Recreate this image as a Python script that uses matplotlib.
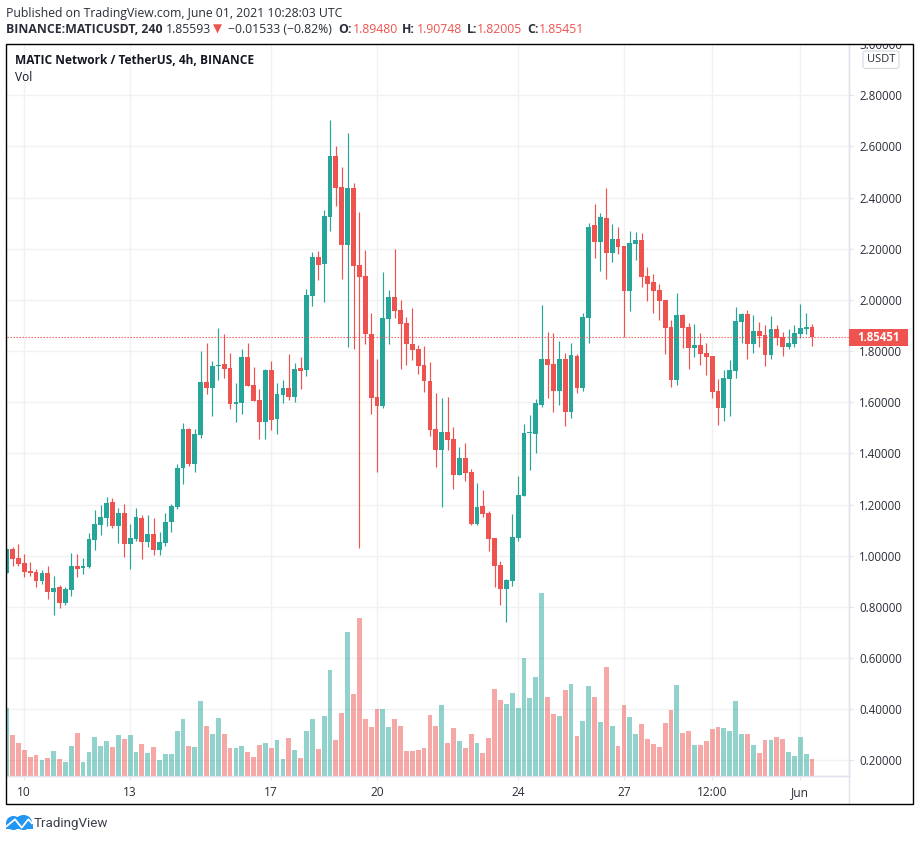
#!/usr/bin/env python

import matplotlib
matplotlib.use("Agg")
import matplotlib.pyplot as plt
from matplotlib.patches import Rectangle, FancyBboxPatch, Ellipse
from matplotlib.lines import Line2D
from matplotlib.transforms import Bbox
import numpy as np

W, H = 920, 841
GREEN = "#26a69a"
RED = "#ef5350"
GRID = "#f0f1f3"
AXIS = "#e0e3eb"
TEXT = "#2a2e39"

plt.rcParams["font.family"] = ["Open Sans", "DejaVu Sans"]

# 4h candles, first one is half hidden behind the left edge
opens = [0.931, 1.027, 0.992, 0.972, 0.941, 0.937, 0.902, 0.933, 0.859, 0.879, 0.816, 0.867,
         0.961, 0.953, 0.957, 1.062, 1.121, 1.148, 1.211, 1.117, 1.168, 1.047, 1.066, 1.148,
         1.055, 1.086, 1.023, 1.051, 1.133, 1.191, 1.344, 1.497, 1.360, 1.473, 1.680, 1.657,
         1.743, 1.751, 1.735, 1.594, 1.598, 1.778, 1.669, 1.610, 1.524, 1.727, 1.536, 1.630,
         1.657, 1.622, 1.735, 1.727, 2.017, 2.166, 2.142, 2.326, 2.561, 2.443, 2.213, 2.439,
         2.138, 2.095, 1.868, 1.622, 1.587, 1.927, 2.013, 1.962, 1.911, 1.829, 1.810, 1.747,
         1.684, 1.497, 1.414, 1.485, 1.458, 1.317, 1.383, 1.328, 1.125, 1.195, 1.168, 1.070,
         0.965, 0.871, 0.902, 1.070, 1.235, 1.478, 1.477, 1.591, 1.770, 1.751, 1.645,
         1.770, 1.563, 1.782, 1.657, 1.931, 2.291, 2.228, 2.322, 2.185, 2.240, 2.209, 2.033,
         2.220, 2.236, 2.095, 2.072, 2.040, 2.001, 1.896, 1.688, 1.943, 1.896, 1.814, 1.825,
         1.794, 1.782, 1.645, 1.579, 1.692, 1.724, 1.915, 1.946, 1.829, 1.880, 1.864, 1.786,
         1.888, 1.856, 1.817, 1.829, 1.868, 1.888, 1.8948]
highs = [1.027, 1.035, 1.047, 1.008, 0.976, 0.949, 0.945, 0.961, 0.922, 0.886, 0.879, 1.012,
         1.008, 0.991, 1.090, 1.180, 1.199, 1.231, 1.227, 1.188, 1.203, 1.125, 1.188, 1.160,
         1.160, 1.148, 1.094, 1.168, 1.203, 1.360, 1.520, 1.500, 1.497, 1.802, 1.833, 1.763,
         1.892, 1.868, 1.794, 1.677, 1.810, 1.833, 1.739, 1.653, 1.731, 1.763, 1.677, 1.688,
         1.790, 1.755, 1.778, 2.044, 2.189, 2.193, 2.353, 2.702, 2.600, 2.518, 2.651, 2.459,
         2.342, 2.197, 1.950, 1.770, 2.111, 2.040, 2.201, 2.001, 1.935, 1.970, 1.825, 1.821,
         1.759, 1.637, 1.618, 1.622, 1.504, 1.426, 1.442, 1.340, 1.285, 1.258, 1.176, 1.070,
         0.980, 0.910, 1.164, 1.313, 1.516, 1.551, 1.614, 1.982, 1.876, 1.872, 1.841, 1.794,
         1.833, 1.790, 1.950, 2.299, 2.377, 2.338, 2.439, 2.295, 2.287, 2.209, 2.271, 2.267,
         2.263, 2.130, 2.103, 2.064, 2.001, 1.923, 2.029, 1.946, 1.911, 1.907, 1.872, 1.833,
         1.782, 1.692, 1.727, 1.767, 1.974, 1.950, 1.962, 1.943, 1.915, 1.903, 1.939, 1.903,
         1.876, 1.888, 1.903, 1.986, 1.950, 1.90748]
lows = [0.931, 0.958, 0.958, 0.915, 0.919, 0.879, 0.890, 0.832, 0.769, 0.796, 0.808, 0.843,
        0.918, 0.929, 0.953, 1.023, 1.082, 1.117, 1.109, 1.051, 0.996, 0.949, 1.058, 0.988,
        1.035, 1.004, 1.004, 1.039, 1.094, 1.184, 1.281, 1.352, 1.328, 1.461, 1.634, 1.547,
        1.688, 1.696, 1.575, 1.524, 1.555, 1.665, 1.606, 1.458, 1.458, 1.493, 1.477, 1.598,
        1.610, 1.602, 1.653, 1.704, 1.978, 2.076, 1.990, 2.271, 2.369, 2.083, 1.817, 1.810,
        1.031, 1.829, 1.555, 1.328, 1.579, 1.829, 1.931, 1.731, 1.747, 1.767, 1.712, 1.641,
        1.469, 1.348, 1.191, 1.414, 1.262, 1.317, 1.293, 1.121, 1.121, 1.152, 1.019, 0.879,
        0.808, 0.742, 0.882, 1.058, 1.235, 1.336, 1.403, 1.583, 1.618, 1.563, 1.591, 1.508,
        1.540, 1.637, 1.645, 1.833, 2.162, 2.115, 2.080, 2.150, 2.181, 1.854, 1.958, 2.158,
        2.052, 1.997, 1.950, 1.923, 1.790, 1.661, 1.669, 1.814, 1.731, 1.778, 1.747, 1.708,
        1.618, 1.512, 1.528, 1.547, 1.696, 1.833, 1.770, 1.794, 1.817, 1.743, 1.770, 1.825,
        1.782, 1.810, 1.817, 1.853, 1.868, 1.82005]
closes = [1.027, 0.988, 0.968, 0.937, 0.933, 0.902, 0.933, 0.859, 0.875, 0.816, 0.871, 0.961,
          0.949, 0.961, 1.066, 1.125, 1.152, 1.207, 1.117, 1.168, 1.047, 1.070, 1.152, 1.055,
          1.086, 1.023, 1.055, 1.133, 1.195, 1.344, 1.497, 1.360, 1.477, 1.680, 1.657, 1.743,
          1.747, 1.731, 1.594, 1.602, 1.778, 1.665, 1.606, 1.524, 1.727, 1.532, 1.634, 1.657,
          1.622, 1.731, 1.724, 2.021, 2.166, 2.138, 2.330, 2.561, 2.439, 2.213, 2.439, 2.134,
          2.091, 1.868, 1.618, 1.587, 1.931, 2.013, 1.958, 1.907, 1.829, 1.806, 1.743, 1.684,
          1.493, 1.414, 1.485, 1.454, 1.317, 1.383, 1.325, 1.125, 1.191, 1.164, 1.066, 0.961,
          0.871, 0.906, 1.074, 1.238, 1.481, 1.482, 1.598, 1.770, 1.747, 1.645, 1.770, 1.563,
          1.786, 1.657, 1.935, 2.287, 2.228, 2.326, 2.185, 2.240, 2.205, 2.033, 2.224, 2.236,
          2.091, 2.064, 2.036, 1.997, 1.892, 1.688, 1.943, 1.892, 1.814, 1.825, 1.790, 1.778,
          1.641, 1.579, 1.696, 1.727, 1.919, 1.946, 1.829, 1.880, 1.860, 1.786, 1.888, 1.853,
          1.817, 1.833, 1.872, 1.892, 1.896, 1.85451]
volumes = [68, 41, 33, 26, 19, 21, 16, 18, 25, 17, 14, 30, 43, 14, 24, 39, 30, 35, 29, 41, 37, 41,
           24, 32, 23, 29, 16, 22, 22, 45, 57, 30, 29, 75, 50, 42, 58, 42, 28, 28, 30, 24, 19, 31,
           33, 28, 36, 17, 38, 26, 18,
           45, 57, 27, 60, 106, 36, 63, 144, 82, 158, 57, 49, 67, 67, 49, 57, 50, 25, 25, 26, 28,
           61, 50, 71, 33, 48, 35, 28, 42, 33, 23, 38, 87, 76, 72, 83, 68, 118, 78, 99, 183, 79,
           62, 60, 86, 92, 40, 55, 90, 79, 54, 109, 50, 30, 71, 59, 42, 52, 37, 32, 29, 53, 66,
           91, 43, 45, 31, 31, 35, 47, 49, 48, 45, 75, 42, 42, 31, 23, 36, 36, 39, 37, 24, 20, 39,
           22, 17]

price_ticks = [0.2, 0.4, 0.6, 0.8, 1.0, 1.2, 1.4, 1.6, 1.8, 2.0, 2.2, 2.4, 2.6, 2.8, 3.0]
time_pos = [0, 18, 42, 60, 84, 102, 117, 132]
time_labels = ["10", "13", "17", "20", "24", "27", "12:00", "Jun"]
last_price = 1.85451


def fx(px):
    return px / W


def fy(py):
    return 1 - py / H


def label(x, y, s, **kw):
    kw.setdefault("color", TEXT)
    kw.setdefault("fontsize", 8.8)
    kw.setdefault("va", "center")
    return fig.text(fx(x), fy(y), s, **kw)


fig = plt.figure(figsize=(W / 100, H / 100), dpi=100, facecolor="white")
ax = fig.add_axes([fx(7), fy(776), fx(849 - 7), (776 - 44) / H])

opens = np.array(opens)
closes = np.array(closes)
highs = np.array(highs)
lows = np.array(lows)
x = np.arange(len(closes)) - 3
colors = [GREEN if c >= o else RED for o, c in zip(opens, closes)]

ax.set_xlim(-2.94, 140.28)
ax.set_ylim(0.1387, 3.0006)
ax.set_axisbelow(True)
ax.grid(True, color=GRID, lw=1)

# candles
ax.vlines(x, lows, highs, colors=colors, lw=0.85, zorder=3)
ax.bar(x, np.abs(closes - opens), bottom=np.minimum(opens, closes), width=0.82,
       color=colors, lw=0, zorder=4)
ax.axhline(last_price, color=RED, lw=0.8, ls=(0, (1.17, 1.53)), zorder=5)

# volume sits on its own scale in the same pane, 1 unit is about one pixel
vol = ax.twinx()
vol.set_position(ax.get_position())
vol.set_ylim(0, 732)
vol.bar(x, volumes, width=0.82, color=colors, alpha=0.5, lw=0)
vol.set_yticks([])
vol.patch.set_visible(False)
vol.set_xlim(ax.get_xlim())
for a in (ax, vol):
    for side in ("top", "left"):
        a.spines[side].set_visible(False)
    for side in ("bottom", "right"):
        a.spines[side].set_color(AXIS)
        a.spines[side].set_linewidth(1)

ax.yaxis.tick_right()
ax.set_yticks(price_ticks)
ax.set_yticklabels(["%.5f" % p for p in price_ticks], fontsize=8.3, color=TEXT)
ax.set_xticks(time_pos)
ax.set_xticklabels(time_labels, fontsize=8.6, color=TEXT)
ax.tick_params(axis="y", length=2.9, width=0.8, color=AXIS, pad=4.6)
ax.tick_params(axis="x", length=2.9, width=0.8, color=AXIS, pad=4)

# top label runs into the frame and gets cut there
for t in ax.get_yticklabels():
    t.set_clip_box(Bbox([[840, H - 776], [913, H - 44]]))
    t.set_clip_on(True)

# price axis line carries on down through the time axis
fig.add_artist(Line2D([fx(849), fx(849)], [fy(804), fy(776)], color=AXIS, lw=1,
                      transform=fig.transFigure))

# frame around everything
fig.add_artist(Rectangle((fx(6.5), fy(804)), fx(913 - 6.5), (804 - 43.5) / H, fill=False,
                         ec="black", lw=1.0, transform=fig.transFigure, zorder=20))

# header lines
label(6, 13, "Published on TradingView.com, June 01, 2021 10:28:03 UTC")
label(6, 29.5, "BINANCE:MATICUSDT, 240", fontweight="bold")
label(165.7, 29.5, "1.85593")
label(213, 29.5, "\u25bc", color=RED, fontsize=8.5, family="DejaVu Sans")
label(228.3, 29.5, "\u22120.01533 (\u22120.82%)")
for xa, name, xb, val in [(338.3, "O:", 352.7, "1.89480"), (402.3, "H:", 416.7, "1.90748"),
                          (466.7, "L:", 477.3, "1.82005"), (527.3, "C:", 539.3, "1.85451")]:
    label(xa, 29.5, name, fontweight="bold")
    label(xb, 29.5, val, color=RED)

# legend inside the pane
label(15, 60.5, "MATIC Network / TetherUS, 4h, BINANCE", fontweight="bold", fontsize=8.6, color="#131722")
label(15, 77.5, "Vol", fontsize=8.6, color="#131722")

# price tag
fig.add_artist(Rectangle((fx(849), fy(345.5)), fx(59), 16.5 / H, fc=RED, ec="none",
                         transform=fig.transFigure, zorder=10))
label(878.5, 337.5, "1.85451", color="white", fontweight="bold", fontsize=8.3, ha="center", zorder=11)

# currency badge
fig.add_artist(FancyBboxPatch((fx(863), fy(68.5)), fx(36), 17.5 / H,
                              boxstyle="round,pad=0,rounding_size=0.003", fc="white", ec="#d6d8e0",
                              lw=0.8, transform=fig.transFigure, zorder=10))
label(881, 60, "USDT", fontsize=8, ha="center", zorder=11)

# logo
logo = fig.add_axes([fx(6), fy(830), fx(27), 16 / H])
logo.set_xlim(6, 33)
logo.set_ylim(830, 814)
logo.axis("off")
blue = "#2196f3"
logo.add_patch(Ellipse((13.5, 823), 15, 14, fc=blue, ec="none"))
logo.add_patch(Ellipse((23.5, 822.5), 17, 15, fc=blue, ec="none"))
logo.add_patch(Rectangle((6, 824), 26.5, 5.3, fc=blue, ec="none"))
logo.plot([6, 15, 21.7, 28.3, 32], [826.7, 819.3, 827.7, 819.3, 823.3], color="white", lw=1.3)
label(34, 823.5, "TradingView", fontsize=9.6, color="#3a3f4b", family="Roboto")

fig.savefig("out.png", dpi=100)
